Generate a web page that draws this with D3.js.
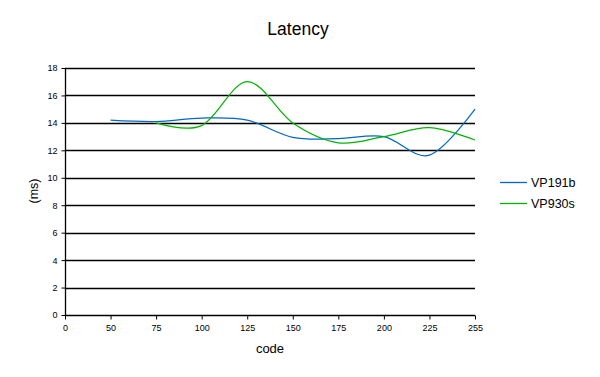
<!DOCTYPE html>
<html>
<head>
<meta charset="utf-8">
<script src="https://cdn.jsdelivr.net/npm/d3@7"></script>
<style>
  html, body { margin: 0; padding: 0; background: #fff; }
  svg { display: block; font-family: Arial, "Liberation Sans", sans-serif; }
</style>
</head>
<body>
<svg id="chart" width="600" height="377"></svg>
<script>
  // categories along the x axis (category axis, evenly spaced)
  const codes = ['0', '50', '75', '100', '125', '150', '175', '200', '225', '255'];
  // latency values in ms, null where the series has no point
  const vp191b = [null, 14.2, 14.1, 14.35, 14.2, 12.95, 12.85, 13.0, 11.65, 15.0];
  const vp930s = [null, null, 14.0, 13.8, 17.0, 14.0, 12.55, 13.0, 13.65, 12.75];
  const yTicks = [0, 2, 4, 6, 8, 10, 12, 14, 16, 18];

  const series = [
    { name: 'VP191b', values: vp191b, color: '#0066cc' },
    { name: 'VP930s', values: vp930s, color: '#00b400' },
  ];

  const svg = d3.select('#chart');
  const plotLeft = 65, plotRight = 475, plotTop = 68, plotBottom = 315;

  const x = d3.scalePoint().domain(codes).range([plotLeft, plotRight]);
  const y = d3.scaleLinear().domain([0, 18]).range([plotBottom, plotTop]);

  // gridlines
  svg.append('g')
    .selectAll('line')
    .data(yTicks.filter((d) => d > 0))
    .join('line')
    .attr('x1', plotLeft).attr('x2', plotRight)
    .attr('y1', (d) => Math.round(y(d)) + 0.5)
    .attr('y2', (d) => Math.round(y(d)) + 0.5)
    .attr('stroke', '#000')
    .attr('stroke-width', 1.3);

  const yAxis = svg.append('g')
    .attr('transform', `translate(${plotLeft + 0.5},0)`)
    .call(d3.axisLeft(y).tickValues(yTicks).tickSize(4).tickPadding(4));
  const xAxis = svg.append('g')
    .attr('transform', `translate(0,${Math.round(plotBottom) + 0.5})`)
    .call(d3.axisBottom(x).tickSize(4).tickPadding(5));

  [yAxis, xAxis].forEach((g) => {
    g.select('.domain').attr('stroke', '#000').attr('stroke-width', 1.3);
    g.selectAll('.tick line').attr('stroke', '#000');
    g.selectAll('text').attr('font-size', 9).attr('fill', '#000')
      .attr('font-family', 'Arial, "Liberation Sans", sans-serif');
  });
  // drop the outer tick stubs of the domain path
  yAxis.select('.domain').attr('d', `M0,${plotTop}V${plotBottom}`);
  xAxis.select('.domain').attr('d', `M${plotLeft},0H${plotRight}`);

  const line = d3.line()
    .defined((d) => d.v != null)
    .x((d) => x(d.c))
    .y((d) => y(d.v))
    .curve(d3.curveCatmullRom.alpha(0));

  series.forEach((s) => {
    const pts = codes.map((c, i) => ({ c, v: s.values[i] })).filter((d) => d.v != null);
    svg.append('path')
      .datum(pts)
      .attr('fill', 'none')
      .attr('stroke', s.color)
      .attr('stroke-width', 1.2)
      .attr('d', line);
  });

  svg.append('text')
    .attr('x', 298).attr('y', 35)
    .attr('text-anchor', 'middle')
    .attr('font-size', 17.5)
    .text('Latency');

  svg.append('text')
    .attr('x', (plotLeft + plotRight) / 2).attr('y', 353)
    .attr('text-anchor', 'middle')
    .attr('font-size', 13)
    .text('code');

  svg.append('text')
    .attr('transform', 'translate(38,191) rotate(-90)')
    .attr('text-anchor', 'middle')
    .attr('font-size', 12.5)
    .text('(ms)');

  const legend = svg.append('g')
    .selectAll('g')
    .data(series)
    .join('g')
    .attr('transform', (d, i) => `translate(500,${182 + i * 21})`);
  legend.append('line')
    .attr('x1', 0).attr('x2', 27).attr('y1', 0.5).attr('y2', 0.5)
    .attr('stroke', (d) => d.color).attr('stroke-width', 1.3);
  legend.append('text')
    .attr('x', 31).attr('y', 4.5)
    .attr('font-size', 12.5)
    .text((d) => d.name);
</script>
</body>
</html>
